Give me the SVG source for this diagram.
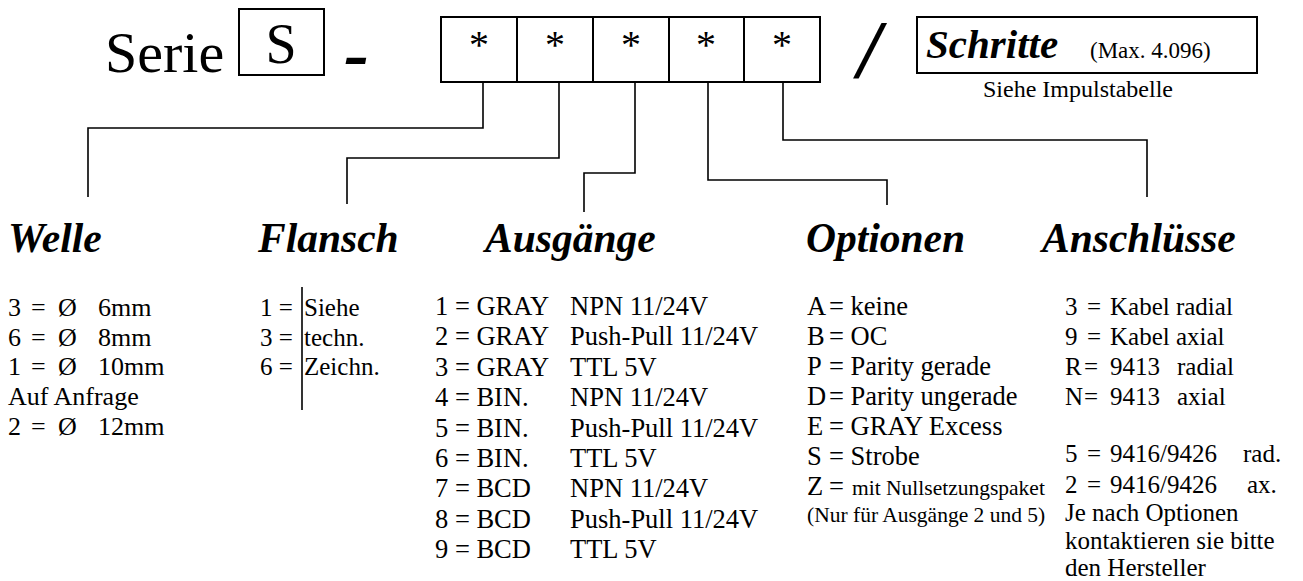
<svg xmlns="http://www.w3.org/2000/svg" width="1303" height="581" viewBox="0 0 1303 581">
<style>
text{font-family:"Liberation Serif","Times New Roman",serif;fill:#000}
.h{font-size:41.5px;font-weight:bold;font-style:italic}
.t{font-size:25px}
.w{font-size:26px}
.a{font-size:26.5px}
.s{font-size:21.5px}
.box{fill:#fff;stroke:#000;stroke-width:2}
.ast{font-size:40px;text-anchor:middle}
.con{fill:none;stroke:#000;stroke-width:1.6}
</style>
<rect width="1303" height="581" fill="#fff"/>

<g id="code">
  <text x="105" y="72" font-size="58">Serie</text>
  <rect class="box" x="239" y="9" width="85" height="66"/>
  <text x="281" y="63" font-size="56" text-anchor="middle">S</text>
  <text x="344" y="78" font-size="75" font-weight="bold" font-style="italic">-</text>
  <rect class="box" x="441" y="17" width="76" height="65"/>
  <rect class="box" x="517" y="17" width="76" height="65"/>
  <rect class="box" x="593" y="17" width="76" height="65"/>
  <rect class="box" x="669" y="17" width="75" height="65"/>
  <rect class="box" x="744" y="17" width="76" height="65"/>
  <text class="ast" x="479" y="58">*</text>
  <text class="ast" x="555" y="58">*</text>
  <text class="ast" x="631" y="58">*</text>
  <text class="ast" x="706" y="58">*</text>
  <text class="ast" x="782" y="58">*</text>
  <text x="858" y="77" font-size="82" font-weight="bold" font-style="italic">/</text>
</g>

<g id="schritte">
  <rect class="box" x="917" y="17" width="340" height="56"/>
  <text x="926" y="58" font-size="41" font-weight="bold" font-style="italic">Schritte</text>
  <text x="1090" y="58" font-size="23">(Max. 4.096)</text>
  <text x="983" y="97" font-size="24">Siehe Impulstabelle</text>
</g>

<g id="connectors">
  <polyline class="con" points="483,82 483,128 88,128 88,197"/>
  <polyline class="con" points="559,82 559,158 347,158 347,204"/>
  <polyline class="con" points="635,82 635,173 584,173 584,212"/>
  <polyline class="con" points="708,82 708,180 887,180 887,205"/>
  <polyline class="con" points="783,82 783,140 1147,140 1147,197"/>
</g>

<g id="welle">
  <text class="h" x="8" y="252">Welle</text>
  <text class="w" x="8" y="316">3<tspan x="31">=</tspan><tspan x="58">Ø</tspan><tspan x="98">6mm</tspan></text>
  <text class="w" x="8" y="346">6<tspan x="31">=</tspan><tspan x="58">Ø</tspan><tspan x="98">8mm</tspan></text>
  <text class="w" x="8" y="375">1<tspan x="31">=</tspan><tspan x="58">Ø</tspan><tspan x="98">10mm</tspan></text>
  <text class="w" x="8" y="405">Auf Anfrage</text>
  <text class="w" x="8" y="435">2<tspan x="31">=</tspan><tspan x="58">Ø</tspan><tspan x="98">12mm</tspan></text>
</g>

<g id="flansch">
  <text class="h" x="258" y="252">Flansch</text>
  <text class="t" x="260" y="316">1 =<tspan x="304">Siehe</tspan></text>
  <text class="t" x="260" y="346">3 =<tspan x="304">techn.</tspan></text>
  <text class="t" x="260" y="375">6 =<tspan x="304">Zeichn.</tspan></text>
  <line x1="302" y1="287" x2="302" y2="410" stroke="#000" stroke-width="1.6"/>
</g>

<g id="ausgaenge">
  <text class="h" x="485" y="252">Ausgänge</text>
  <text class="a" x="435" y="315">1 = GRAY<tspan x="570">NPN 11/24V</tspan></text>
  <text class="a" x="435" y="345">2 = GRAY<tspan x="570">Push-Pull 11/24V</tspan></text>
  <text class="a" x="435" y="376">3 = GRAY<tspan x="570">TTL 5V</tspan></text>
  <text class="a" x="435" y="406">4 = BIN.<tspan x="570">NPN 11/24V</tspan></text>
  <text class="a" x="435" y="437">5 = BIN.<tspan x="570">Push-Pull 11/24V</tspan></text>
  <text class="a" x="435" y="467">6 = BIN.<tspan x="570">TTL 5V</tspan></text>
  <text class="a" x="435" y="497">7 = BCD<tspan x="570">NPN 11/24V</tspan></text>
  <text class="a" x="435" y="528">8 = BCD<tspan x="570">Push-Pull 11/24V</tspan></text>
  <text class="a" x="435" y="558">9 = BCD<tspan x="570">TTL 5V</tspan></text>
</g>

<g id="optionen">
  <text class="h" x="806" y="252">Optionen</text>
  <text class="a" x="807" y="315">A<tspan x="829">= keine</tspan></text>
  <text class="a" x="807" y="345">B<tspan x="829">= OC</tspan></text>
  <text class="a" x="807" y="375">P<tspan x="829">= Parity gerade</tspan></text>
  <text class="a" x="807" y="405">D<tspan x="829">= Parity ungerade</tspan></text>
  <text class="a" x="807" y="435">E<tspan x="829">= GRAY Excess</tspan></text>
  <text class="a" x="807" y="465">S<tspan x="829">= Strobe</tspan></text>
  <text class="a" x="807" y="495">Z<tspan x="829">=</tspan><tspan x="852" font-size="21.5">mit Nullsetzungspaket</tspan></text>
  <text class="s" x="807" y="522">(Nur für Ausgänge 2 und 5)</text>
</g>

<g id="anschluesse">
  <text class="h" x="1042" y="252">Anschlüsse</text>
  <text class="t" x="1065" y="315">3<tspan x="1087">=</tspan><tspan x="1110">Kabel radial</tspan></text>
  <text class="t" x="1065" y="345">9<tspan x="1087">=</tspan><tspan x="1110">Kabel axial</tspan></text>
  <text class="t" x="1065" y="375">R<tspan x="1084">=</tspan><tspan x="1110">9413</tspan><tspan x="1177">radial</tspan></text>
  <text class="t" x="1065" y="405">N<tspan x="1084">=</tspan><tspan x="1110">9413</tspan><tspan x="1177">axial</tspan></text>
  <text class="t" x="1065" y="462">5<tspan x="1087">=</tspan><tspan x="1110">9416/9426</tspan><tspan x="1243">rad.</tspan></text>
  <text class="t" x="1065" y="493">2<tspan x="1087">=</tspan><tspan x="1110">9416/9426</tspan><tspan x="1247">ax.</tspan></text>
  <text class="t" x="1065" y="521">Je nach Optionen</text>
  <text class="t" x="1065" y="549">kontaktieren sie bitte</text>
  <text class="t" x="1065" y="576">den Hersteller</text>
</g>
</svg>
